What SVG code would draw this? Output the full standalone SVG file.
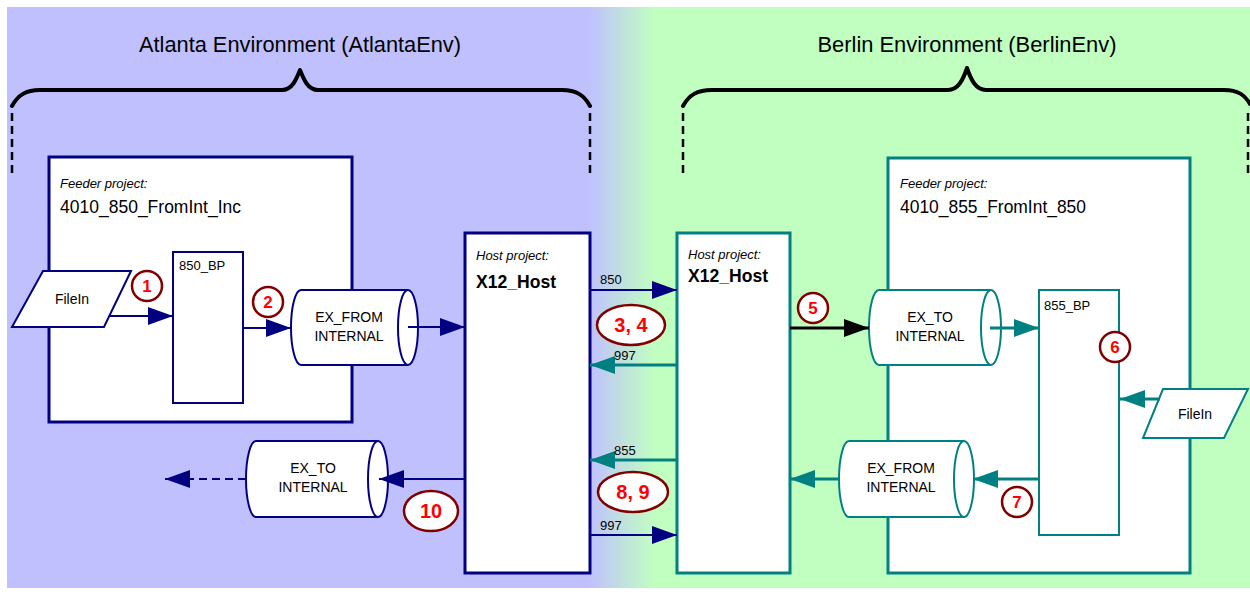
<svg xmlns="http://www.w3.org/2000/svg" width="1250" height="592" viewBox="0 0 1250 592">
  <defs>
    <linearGradient id="envBg" gradientUnits="userSpaceOnUse" x1="588" y1="0" x2="655" y2="0">
      <stop offset="0" stop-color="#c0c0ff"/>
      <stop offset="1" stop-color="#c0ffc0"/>
    </linearGradient>
    <marker id="arrNavy" markerUnits="userSpaceOnUse" markerWidth="26" markerHeight="20" refX="25" refY="9" orient="auto">
      <path d="M0,0 L25,9 L0,18 z" fill="#000080"/>
    </marker>
    <marker id="arrTeal" markerUnits="userSpaceOnUse" markerWidth="26" markerHeight="20" refX="25" refY="9" orient="auto">
      <path d="M0,0 L25,9 L0,18 z" fill="#008080"/>
    </marker>
    <marker id="arrBlack" markerUnits="userSpaceOnUse" markerWidth="26" markerHeight="20" refX="25" refY="9" orient="auto">
      <path d="M0,0 L25,9 L0,18 z" fill="#000000"/>
    </marker>
  </defs>
  <style>
    text { font-family: "Liberation Sans", Arial, sans-serif; fill: #000; }
    .title { font-size: 22px; text-anchor: middle; }
    .brace { fill: none; stroke: #000; stroke-width: 4; stroke-linecap: round; stroke-linejoin: round; }
    .guide { stroke: #000; stroke-width: 2.5; stroke-dasharray: 8 5; }
    .navyBox { fill: #fff; stroke: #000080; stroke-width: 3; }
    .tealBox { fill: #fff; stroke: #008080; stroke-width: 3; }
    .navyThin { fill: #fff; stroke: #000080; stroke-width: 2; }
    .tealThin { fill: #fff; stroke: #008080; stroke-width: 2; }
    .kind { font-size: 13px; font-style: italic; }
    .name { font-size: 19px; }
    .host { font-size: 19px; font-weight: bold; }
    .small { font-size: 13px; }
    .cyl { font-size: 14px; text-anchor: middle; }
    .mid { text-anchor: middle; }
    .navyLine { fill: none; stroke: #000080; stroke-width: 2; marker-end: url(#arrNavy); }
    .tealLine { fill: none; stroke: #008080; stroke-width: 3; marker-end: url(#arrTeal); }
    .blackLine { fill: none; stroke: #000; stroke-width: 3; marker-end: url(#arrBlack); }
    .step { fill: #fff; stroke: #800000; stroke-width: 2.5; }
    .stepNum { font-size: 17px; font-weight: bold; fill: #ff0000; text-anchor: middle; }
    .stepBig { font-size: 20px; font-weight: bold; fill: #ff0000; text-anchor: middle; }
  </style>

  <!-- environment background -->
  <rect x="7" y="7" width="1243" height="581" fill="url(#envBg)"/>

  <!-- environment headings and braces -->
  <g id="atlanta-env">
    <text class="title" x="300" y="52" textLength="322" lengthAdjust="spacingAndGlyphs">Atlanta Environment (AtlantaEnv)</text>
    <path class="brace" d="M12,106 C18,95 26,90 40,90 L282,90 C292,90 296,80 300,70 C304,80 308,90 318,90 L562,90 C576,90 584,95 590,106"/>
    <line class="guide" x1="12" y1="113" x2="12" y2="176"/>
    <line class="guide" x1="590" y1="113" x2="590" y2="176"/>
  </g>
  <g id="berlin-env">
    <text class="title" x="967" y="52" textLength="299" lengthAdjust="spacingAndGlyphs">Berlin Environment (BerlinEnv)</text>
    <path class="brace" d="M683,106 C689,95 697,90 712,90 L948,90 C958,90 963,80 967,68 C971,80 976,90 986,90 L1224,90 C1238,90 1245,95 1250,104"/>
    <line class="guide" x1="683" y1="113" x2="683" y2="178"/>
    <line class="guide" x1="1248" y1="113" x2="1248" y2="178"/>
  </g>

  <!-- Atlanta feeder project -->
  <g id="atlanta-feeder">
    <rect class="navyBox" x="49" y="157" width="303" height="265"/>
    <text class="kind" x="60" y="188">Feeder project:</text>
    <text class="name" x="60" y="213" textLength="181" lengthAdjust="spacingAndGlyphs">4010_850_FromInt_Inc</text>
  </g>
  <g id="atlanta-bp">
    <rect class="navyThin" x="173" y="252" width="70" height="151"/>
    <text class="small" x="179" y="270">850_BP</text>
  </g>
  <g id="atlanta-filein">
    <polygon class="navyThin" points="43,271 131,271 104,327 12,327"/>
    <text class="cyl" x="72" y="304">FileIn</text>
  </g>
  <g id="atlanta-ex-from">
    <path class="navyThin" d="M301,290 L408,290 A10,37.5 0 0 1 408,365 L301,365 A10,37.5 0 0 1 301,290 z"/>
    <path fill="none" stroke="#000080" stroke-width="2" d="M408,290 A10,37.5 0 0 0 408,365"/>
    <text class="cyl" x="349" y="322">EX_FROM</text>
    <text class="cyl" x="349" y="341">INTERNAL</text>
  </g>
  <g id="atlanta-ex-to">
    <path class="navyThin" d="M256,441 L378,441 A10,38 0 0 1 378,517 L256,517 A10,38 0 0 1 256,441 z"/>
    <path fill="none" stroke="#000080" stroke-width="2" d="M378,441 A10,38 0 0 0 378,517"/>
    <text class="cyl" x="313" y="473">EX_TO</text>
    <text class="cyl" x="313" y="492">INTERNAL</text>
  </g>
  <g id="atlanta-host">
    <rect class="navyBox" x="465" y="233" width="125" height="340"/>
    <text class="kind" x="476" y="260">Host project:</text>
    <text class="host" x="476" y="288" textLength="80" lengthAdjust="spacingAndGlyphs">X12_Host</text>
  </g>

  <!-- Berlin projects -->
  <g id="berlin-host">
    <rect class="tealBox" x="677" y="233" width="113" height="340"/>
    <text class="kind" x="688" y="259">Host project:</text>
    <text class="host" x="688" y="282" textLength="80" lengthAdjust="spacingAndGlyphs">X12_Host</text>
  </g>
  <g id="berlin-feeder">
    <rect class="tealBox" x="888" y="158" width="302" height="415"/>
    <text class="kind" x="900" y="188">Feeder project:</text>
    <text class="name" x="900" y="213" textLength="186" lengthAdjust="spacingAndGlyphs">4010_855_FromInt_850</text>
  </g>
  <g id="berlin-bp">
    <rect class="tealThin" x="1039" y="290" width="80" height="245"/>
    <text class="small" x="1044" y="310">855_BP</text>
  </g>
  <g id="berlin-filein">
    <polygon class="tealThin" points="1163,389 1248,389 1224,438 1143,438"/>
    <text class="cyl" x="1195" y="419">FileIn</text>
  </g>
  <g id="berlin-ex-to">
    <path class="tealThin" d="M879,290 L991,290 A10,37.5 0 0 1 991,365 L879,365 A10,37.5 0 0 1 879,290 z"/>
    <path fill="none" stroke="#008080" stroke-width="2" d="M991,290 A10,37.5 0 0 0 991,365"/>
    <text class="cyl" x="930" y="322">EX_TO</text>
    <text class="cyl" x="930" y="341">INTERNAL</text>
  </g>
  <g id="berlin-ex-from">
    <path class="tealThin" d="M849,441 L964,441 A10,38 0 0 1 964,517 L849,517 A10,38 0 0 1 849,441 z"/>
    <path fill="none" stroke="#008080" stroke-width="2" d="M964,441 A10,38 0 0 0 964,517"/>
    <text class="cyl" x="901" y="473">EX_FROM</text>
    <text class="cyl" x="901" y="492">INTERNAL</text>
  </g>

  <!-- connectors -->
  <g id="connectors">
    <line class="navyLine" x1="109" y1="316" x2="173" y2="316"/>
    <line class="navyLine" x1="243" y1="328" x2="291" y2="328"/>
    <line class="navyLine" x1="408" y1="327" x2="465" y2="327"/>
    <line class="navyLine" x1="590" y1="290" x2="677" y2="290"/>
    <line class="tealLine" x1="677" y1="365" x2="590" y2="365"/>
    <line class="tealLine" x1="677" y1="460" x2="590" y2="460"/>
    <line class="navyLine" x1="590" y1="535" x2="677" y2="535"/>
    <line class="navyLine" x1="465" y1="479" x2="379" y2="479"/>
    <line class="navyLine" x1="246" y1="479" x2="165" y2="479" stroke-dasharray="8 5"/>
    <line class="blackLine" x1="790" y1="328" x2="869" y2="328"/>
    <line class="tealLine" x1="990" y1="328" x2="1039" y2="328"/>
    <line class="tealLine" x1="1160" y1="399" x2="1120" y2="399"/>
    <line class="tealLine" x1="1039" y1="479" x2="973" y2="479"/>
    <line class="tealLine" x1="839" y1="479" x2="790" y2="479"/>
    <text class="small" x="600" y="284">850</text>
    <text class="small" x="614" y="360">997</text>
    <text class="small" x="614" y="455">855</text>
    <text class="small" x="600" y="530">997</text>
  </g>

  <!-- step markers -->
  <g id="step-1"><circle class="step" cx="147" cy="286" r="15"/><text class="stepNum" x="147" y="292">1</text></g>
  <g id="step-2"><circle class="step" cx="268" cy="302" r="15"/><text class="stepNum" x="268" y="308">2</text></g>
  <g id="step-3-4"><ellipse class="step" cx="631" cy="325" rx="34" ry="20"/><text class="stepBig" x="631" y="332">3, 4</text></g>
  <g id="step-5"><circle class="step" cx="813" cy="308" r="15"/><text class="stepNum" x="813" y="314">5</text></g>
  <g id="step-6"><circle class="step" cx="1115" cy="347" r="15"/><text class="stepNum" x="1115" y="353">6</text></g>
  <g id="step-7"><circle class="step" cx="1017" cy="502" r="15"/><text class="stepNum" x="1017" y="508">7</text></g>
  <g id="step-8-9"><ellipse class="step" cx="633" cy="492" rx="35" ry="20"/><text class="stepBig" x="633" y="499">8, 9</text></g>
  <g id="step-10"><ellipse class="step" cx="431" cy="511" rx="27" ry="20"/><text class="stepBig" x="431" y="518">10</text></g>
</svg>
